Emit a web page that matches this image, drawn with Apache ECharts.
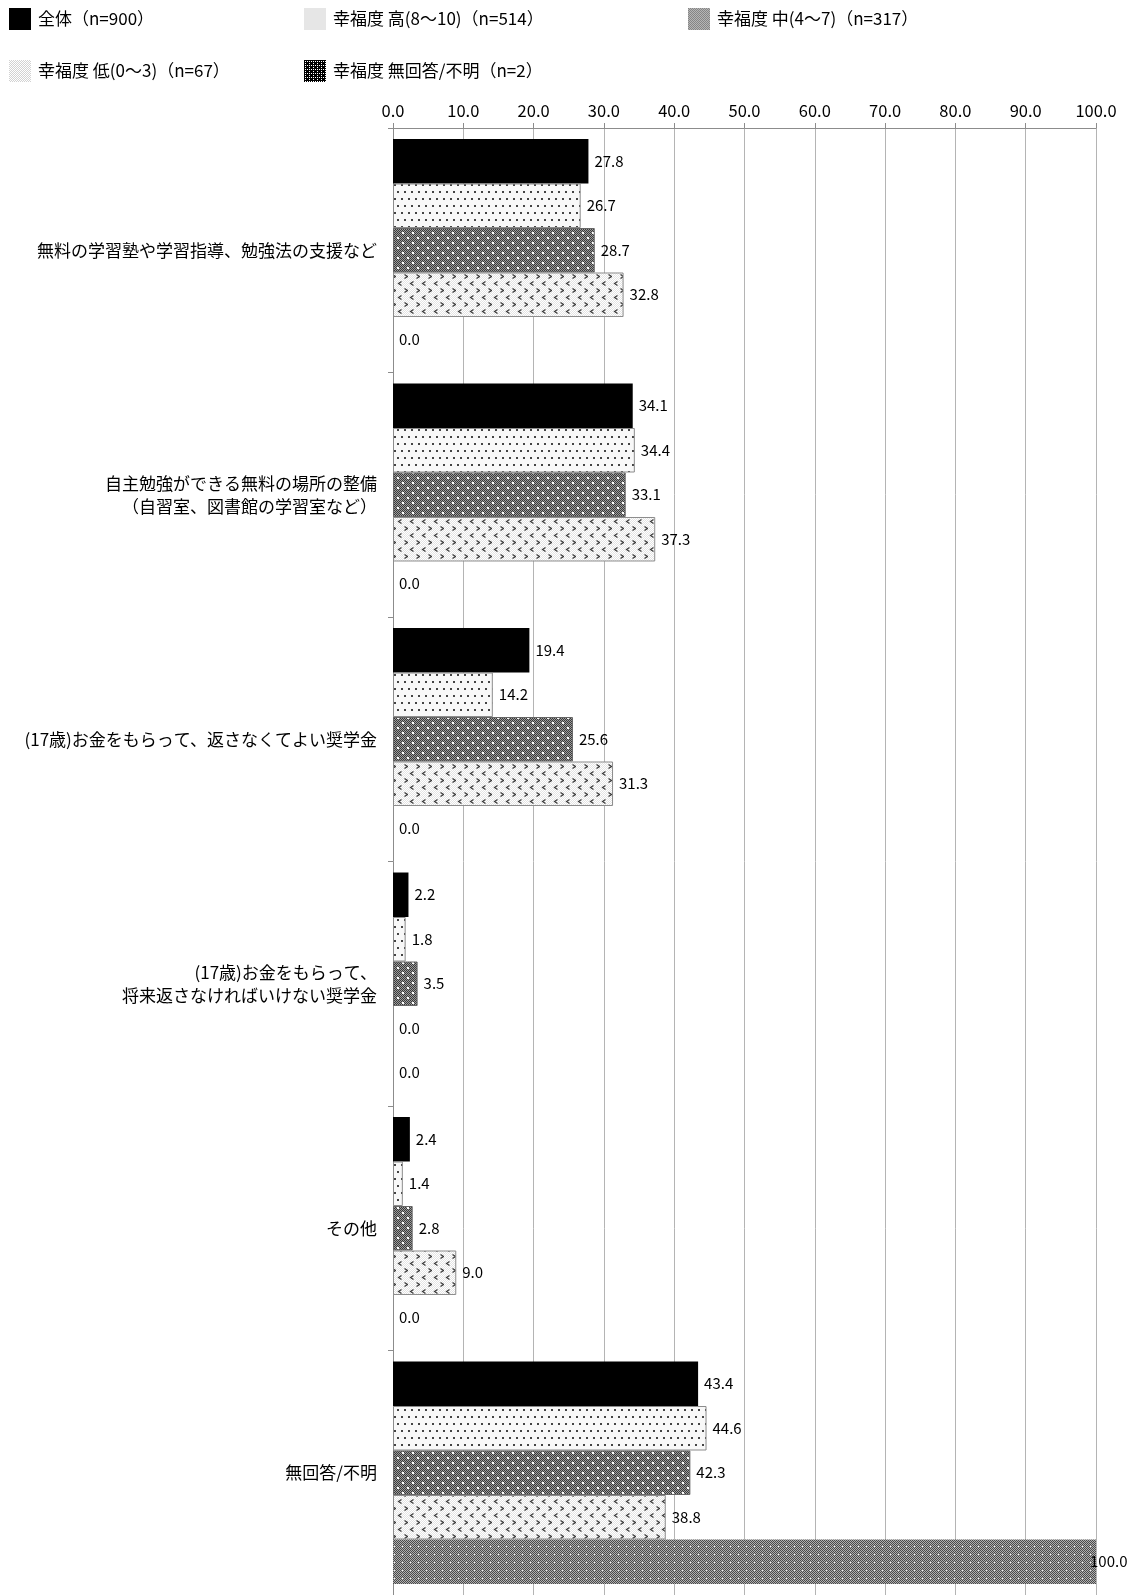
<!DOCTYPE html>
<html>
<head>
<meta charset="utf-8">
<script src="https://cdn.jsdelivr.net/npm/echarts@6/dist/echarts.min.js"></script>
<style>
html,body{margin:0;padding:0;background:#fff;}
#chart{width:1141px;height:1595px;}
</style>
</head>
<body>
<div id="chart"></div>
<script>
const categories = [
  '無料の学習塾や学習指導、勉強法の支援など',
  '自主勉強ができる無料の場所の整備\n（自習室、図書館の学習室など）',
  '(17歳)お金をもらって、返さなくてよい奨学金',
  '(17歳)お金をもらって、\n将来返さなければいけない奨学金',
  'その他',
  '無回答/不明'
];
const seriesNames = [
  '全体（n=900）',
  '幸福度 高(8～10)（n=514）',
  '幸福度 中(4～7)（n=317）',
  '幸福度 低(0～3)（n=67）',
  '幸福度 無回答/不明（n=2）'
];
const valuesAll  = [27.8, 34.1, 19.4, 2.2, 2.4, 43.4];
const valuesHigh = [26.7, 34.4, 14.2, 1.8, 1.4, 44.6];
const valuesMid  = [28.7, 33.1, 25.6, 3.5, 2.8, 42.3];
const valuesLow  = [32.8, 37.3, 31.3, 0.0, 9.0, 38.8];
const valuesNA   = [0.0, 0.0, 0.0, 0.0, 0.0, 100.0];
const xTicks = [0, 10, 20, 30, 40, 50, 60, 70, 80, 90, 100];

function tile(w, h, draw) {
  const c = document.createElement('canvas');
  c.width = w; c.height = h;
  const ctx = c.getContext('2d');
  draw(ctx, w, h);
  return { image: c, repeat: 'repeat' };
}
function checker(ctx, w, h, a, b) {
  for (let y = 0; y < h; y++) for (let x = 0; x < w; x++) {
    ctx.fillStyle = ((x + y) % 2 === 0) ? a : b;
    ctx.fillRect(x, y, 1, 1);
  }
}
// bar patterns
const patHigh = tile(7, 14, (ctx, w, h) => {
  ctx.fillStyle = '#f8f8f8'; ctx.fillRect(0, 0, w, h);
  ctx.fillStyle = '#444';
  ctx.fillRect(2, 2, 2, 2);
  ctx.fillRect(5, 9, 2, 2);
});
const patMid = tile(10, 10, (ctx, w, h) => {
  checker(ctx, w, h, '#3a3a3a', '#9c9c9c');
  ctx.fillStyle = '#fff';
  ctx.fillRect(2, 2, 2, 2);
  ctx.fillRect(7, 7, 2, 2);
});
const patLow = tile(12, 14, (ctx, w, h) => {
  checker(ctx, w, h, '#ffffff', '#e4e4e4');
  ctx.strokeStyle = '#3a3a3a'; ctx.lineWidth = 1.2;
  ctx.beginPath();
  ctx.moveTo(5.5, 1.5); ctx.lineTo(2.5, 3.5); ctx.lineTo(5.5, 5.5);
  ctx.moveTo(8.5, 8.5); ctx.lineTo(11.5, 10.5); ctx.lineTo(8.5, 12.5);
  ctx.stroke();
});
const patNA = tile(8, 8, (ctx, w, h) => {
  checker(ctx, w, h, '#4a4a4a', '#b0b0b0');
  ctx.fillStyle = '#eee';
  ctx.fillRect(2, 2, 1, 1);
});
// legend icon patterns
const legMid = tile(4, 4, (ctx, w, h) => { checker(ctx, w, h, '#858585', '#b5b5b5'); });
const legLow = tile(4, 4, (ctx, w, h) => { checker(ctx, w, h, '#d2d2d2', '#ffffff'); });
const legNA = tile(4, 4, (ctx, w, h) => {
  ctx.fillStyle = '#000'; ctx.fillRect(0, 0, w, h);
  ctx.fillStyle = '#fff'; ctx.fillRect(1, 1, 1, 1); ctx.fillRect(3, 1, 1, 1);
  ctx.fillRect(1, 3, 1, 1);
});

const FONT = '"Noto Sans CJK JP", "Noto Sans", sans-serif';

const barStyles = [
  { color: '#000', borderWidth: 0 },
  { color: patHigh, borderColor: '#8c8c8c', borderWidth: 1 },
  { color: patMid, borderColor: '#666', borderWidth: 1 },
  { color: patLow, borderColor: '#8c8c8c', borderWidth: 1 },
  { color: patNA, borderWidth: 0 }
];
const legendIcons = ['#000', '#e6e6e6', legMid, legLow, legNA];
const legendPos = [
  { left: 9, top: 8 }, { left: 304, top: 8 }, { left: 688, top: 8 },
  { left: 9, top: 60 }, { left: 304, top: 60 }
];
const allValues = [valuesAll, valuesHigh, valuesMid, valuesLow, valuesNA];

const chart = echarts.init(document.getElementById('chart'), null, { renderer: 'canvas' });
chart.setOption({
  animation: false,
  backgroundColor: '#fff',
  textStyle: { fontFamily: FONT },
  legend: seriesNames.map((n, i) => ({
    left: legendPos[i].left, top: legendPos[i].top, padding: 0,
    itemWidth: 22, itemHeight: 22, itemGap: 0,
    icon: 'rect',
    data: [{ name: n, itemStyle: { color: legendIcons[i], borderWidth: 0 } }],
    textStyle: { fontSize: 17, color: '#000', fontFamily: FONT, padding: [0, 0, 0, 2] }
  })),
  grid: { left: 393, width: 703, top: 128, height: 1471, containLabel: false },
  xAxis: {
    type: 'value', position: 'top', min: xTicks[0], max: xTicks[xTicks.length - 1], interval: 10,
    axisLine: { show: true, lineStyle: { color: '#8c8c8c', width: 1 } },
    axisTick: { show: true, length: 5, lineStyle: { color: '#8c8c8c' } },
    splitLine: { show: true, lineStyle: { color: '#b4b4b4', width: 1 } },
    axisLabel: { formatter: v => v.toFixed(1), fontSize: 16.5, color: '#000', margin: 9, fontFamily: FONT }
  },
  yAxis: {
    type: 'category', inverse: true, data: categories,
    axisLine: { show: true, lineStyle: { color: '#8c8c8c', width: 1 } },
    axisTick: { show: true, length: 5, lineStyle: { color: '#8c8c8c' } },
    axisLabel: { fontSize: 17, color: '#000', margin: 16, lineHeight: 23, align: 'right', fontFamily: FONT }
  },
  series: allValues.map((vals, i) => ({
    name: seriesNames[i], type: 'bar',
    barGap: '0%', barCategoryGap: '9%',
    itemStyle: barStyles[i],
    label: { show: true, position: 'right', distance: 6, formatter: p => Number(p.value).toFixed(1),
             fontSize: 15, color: '#000', fontFamily: FONT },
    data: vals.map(v => v >= 100 ? { value: v, label: { offset: [-12, 0] } }
                      : (v === 0 ? { value: v, itemStyle: { borderWidth: 0 } } : v))
  }))
});
</script>
</body>
</html>
